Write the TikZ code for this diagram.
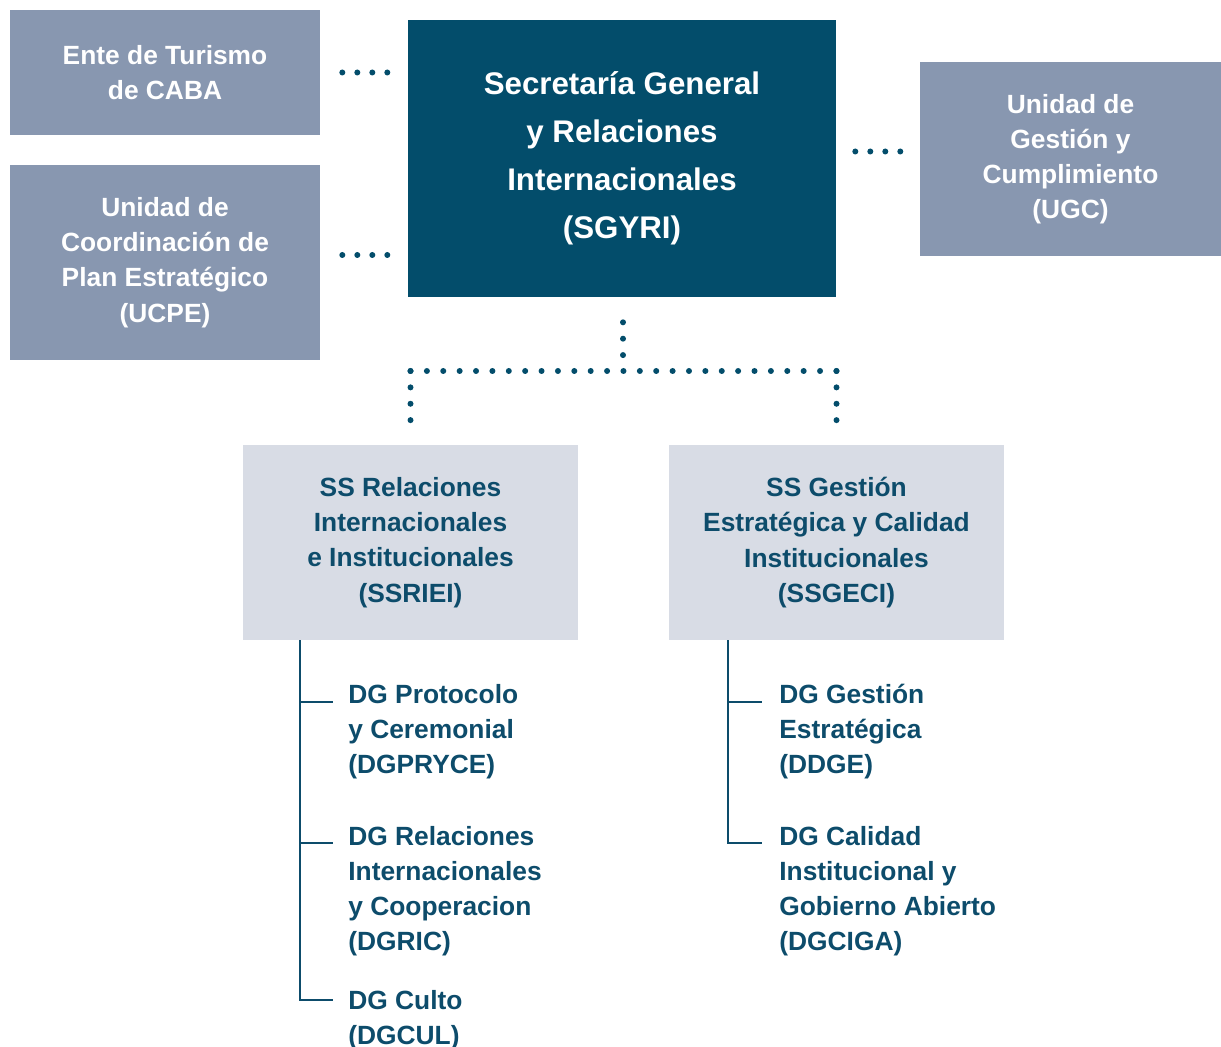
\documentclass[tikz,border=0pt]{standalone}
\usepackage{fontspec}
\setmainfont{Liberation Sans}
\definecolor{sgyriblue}{HTML}{034D6B}
\definecolor{unitgray}{HTML}{8897B0}
\definecolor{subpale}{HTML}{D8DCE5}
\definecolor{dgtext}{HTML}{0D4C6B}

\begin{document}
\begin{tikzpicture}[x=0.02cm,y=-0.02cm,
    unit/.style={fill=unitgray,text=white,font=\fontsize{15}{20}\selectfont\bfseries,
      align=center,inner sep=0pt},
    head/.style={fill=sgyriblue,text=white,font=\fontsize{17.8}{27.3}\selectfont\bfseries,
      align=center,inner sep=0pt,minimum width=8.56cm,minimum height=5.54cm},
    sub/.style={fill=subpale,text=dgtext,font=\fontsize{15}{20}\selectfont\bfseries,
      align=center,inner sep=0pt,minimum width=6.7cm,minimum height=3.9cm},
    dg/.style={text=dgtext,font=\fontsize{15}{20}\selectfont\bfseries,
      align=left,inner sep=0pt,anchor=north west},
    dotline/.style={sgyriblue,line width=0.12cm,line cap=round,
      dash pattern=on 0pt off 0.3cm},
    treedots/.style={dotline,dash pattern=on 0pt off 0.3277cm},
    branch/.style={dgtext,line width=0.03cm}]
  \useasboundingbox (0,0) rectangle (1221,1047);

  \node[unit,minimum width=6.2cm,minimum height=2.5cm] (ente) at (165,72.5)
    {Ente de Turismo\\de CABA};
  \node[unit,minimum width=6.2cm,minimum height=3.9cm] (ucpe) at (165,262.5)
    {Unidad de\\Coordinación de\\Plan Estratégico\\(UCPE)};
  \node[head] (sgyri) at (622,158.5)
    {Secretaría General\\y Relaciones\\Internacionales\\(SGYRI)};
  \node[unit,minimum width=6.02cm,minimum height=3.88cm] (ugc) at (1070.5,159)
    {Unidad de\\Gestión y\\Cumplimiento\\(UGC)};

  \node[sub] (ssriei) at (410.5,542.5)
    {SS Relaciones\\Internacionales\\e Institucionales\\(SSRIEI)};
  \node[sub] (ssgeci) at (836.5,542.5)
    {SS Gestión\\Estratégica y Calidad\\Institucionales\\(SSGECI)};

  \draw[dotline,shorten <=0.44cm,shorten >=0.39cm] (ente.east) -- (ente.east -| sgyri.west);
  \draw[dotline,shorten <=0.44cm,shorten >=0.39cm] ([yshift=0.15cm]ucpe.east) -- ([yshift=0.15cm]ucpe.east -| sgyri.west);
  \draw[dotline,shorten <=0.38cm,shorten >=0.37cm] ([yshift=0.14cm]sgyri.east) -- ([yshift=0.14cm]sgyri.east -| ugc.west);

  \coordinate (hub) at (623,371);
  \draw[treedots,shorten <=0.5cm] (sgyri.south -| hub) -- (hub);
  \draw[treedots] (hub -| ssriei.north) -- (hub -| ssgeci.north);
  \draw[treedots,shorten >=0.44cm] (hub -| ssriei.north) -- (ssriei.north);
  \draw[treedots,shorten >=0.44cm] (hub -| ssgeci.north) -- (ssgeci.north);

  \node[dg] (dgpryce) at (348,684) {DG Protocolo\\y Ceremonial\\(DGPRYCE)};
  \node[dg] (dgric) at (348,826) {DG Relaciones\\Internacionales\\y Cooperacion\\(DGRIC)};
  \node[dg] (dgcul) at (348,990) {DG Culto\\(DGCUL)};
  \node[dg] (ddge) at (779,684) {DG Gestión\\Estratégica\\(DDGE)};
  \node[dg] (dgciga) at (779,826) {DG Calidad\\Institucional y\\Gobierno Abierto\\(DGCIGA)};

  \draw[branch] (ssriei.south -| 300,0) -- (300,1000) -- ([xshift=-0.3cm]dgcul.north west |- 0,1000);
  \draw[branch] (300,702) -- ([xshift=-0.3cm]dgpryce.north west |- 0,702);
  \draw[branch] (300,843) -- ([xshift=-0.3cm]dgric.north west |- 0,843);
  \draw[branch] (ssgeci.south -| 728,0) -- (728,843) -- ([xshift=-0.34cm]dgciga.north west |- 0,843);
  \draw[branch] (728,702) -- ([xshift=-0.34cm]ddge.north west |- 0,702);
\end{tikzpicture}
\end{document}
